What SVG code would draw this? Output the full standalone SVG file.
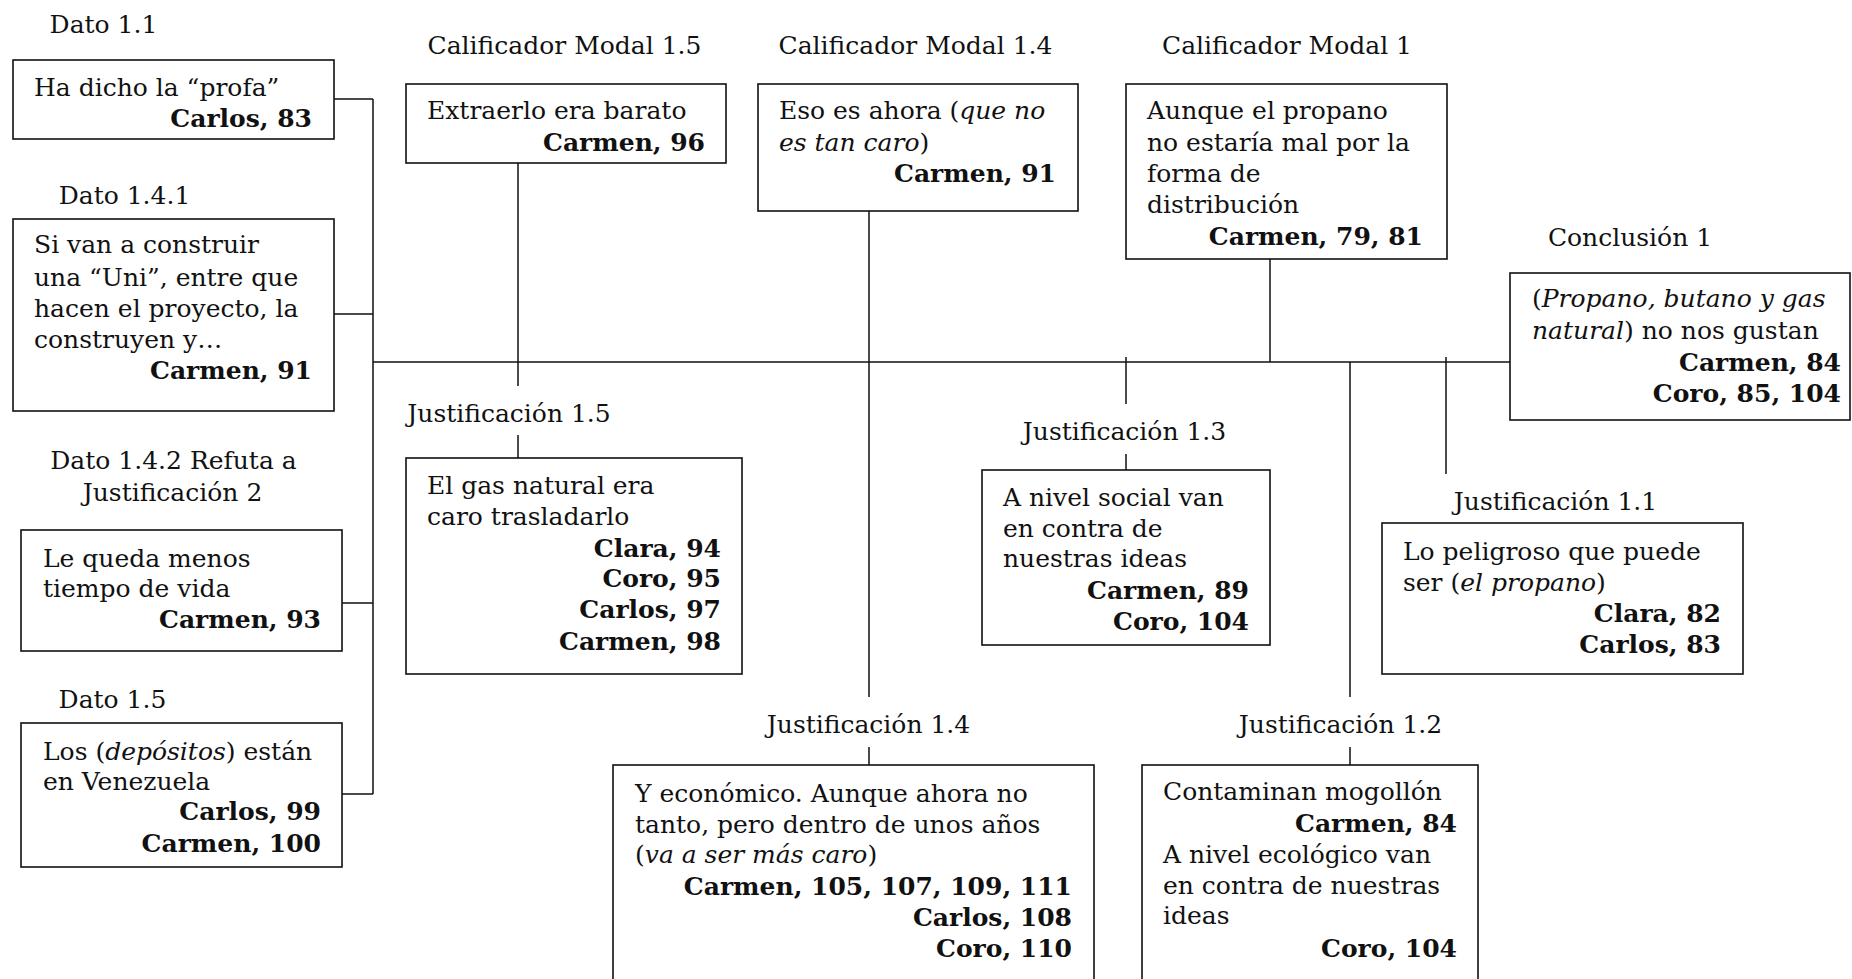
<svg xmlns="http://www.w3.org/2000/svg" width="1852" height="979" viewBox="0 0 1852 979">
  <style>
    text { font-family: "DejaVu Serif", "Liberation Serif", serif; font-size: 25px; fill: #111; }
    .b { font-weight: bold; text-anchor: end; }
    .lbl { text-anchor: middle; }
    .i { font-style: italic; }
    rect.box { fill: #fff; stroke: #111; stroke-width: 1.6; }
    #connectors path { fill: none; stroke: #111; stroke-width: 1.5; }
  </style>
  <rect width="1852" height="979" fill="#fff"/>

  <!-- connectors -->
  <g id="connectors">
    <!-- left bracket joining the data boxes -->
    <path d="M334 99H373M334 314H373M342 603H373M342 794H373M373 99V794"/>
    <!-- main axis to the conclusion -->
    <path d="M373 362H1510"/>
    <!-- qualifier 1.5 / justification 1.5 -->
    <path d="M518 163V386M518 435V458"/>
    <!-- qualifier 1.4 / justification 1.4 -->
    <path d="M869 211V697M869 747V765"/>
    <!-- qualifier 1 -->
    <path d="M1270 259V362"/>
    <!-- justification 1.3 -->
    <path d="M1126 357V404M1126 454V470"/>
    <!-- justification 1.2 -->
    <path d="M1350 362V697M1350 747V765"/>
    <!-- justification 1.1 -->
    <path d="M1446 357V474"/>
  </g>

  <g id="dato-1-1">
    <text class="lbl" x="103.5" y="33">Dato 1.1</text>
    <rect class="box" x="13" y="60" width="321" height="79"/>
    <text x="34" y="96">Ha dicho la “profa”</text>
    <text class="b" x="312" y="127">Carlos, 83</text>
  </g>

  <g id="dato-1-4-1">
    <text class="lbl" x="124.5" y="204">Dato 1.4.1</text>
    <rect class="box" x="13" y="219" width="321" height="192"/>
    <text x="34" y="253">Si van a construir</text>
    <text x="34" y="286">una “Uni”, entre que</text>
    <text x="34" y="317">hacen el proyecto, la</text>
    <text x="34" y="348">construyen y…</text>
    <text class="b" x="312" y="379">Carmen, 91</text>
  </g>

  <g id="dato-1-4-2">
    <text class="lbl" x="173.5" y="469">Dato 1.4.2 Refuta a</text>
    <text class="lbl" x="172.5" y="501">Justificación 2</text>
    <rect class="box" x="21" y="530" width="321" height="121"/>
    <text x="43" y="567">Le queda menos</text>
    <text x="43" y="597">tiempo de vida</text>
    <text class="b" x="321" y="628">Carmen, 93</text>
  </g>

  <g id="dato-1-5">
    <text class="lbl" x="112.5" y="708">Dato 1.5</text>
    <rect class="box" x="21" y="723" width="321" height="144"/>
    <text x="43" y="760">Los (<tspan class="i">depósitos</tspan>) están</text>
    <text x="43" y="790">en Venezuela</text>
    <text class="b" x="321" y="820">Carlos, 99</text>
    <text class="b" x="321" y="852">Carmen, 100</text>
  </g>

  <g id="calificador-1-5">
    <text class="lbl" x="564.5" y="54">Calificador Modal 1.5</text>
    <rect class="box" x="406" y="84" width="320" height="79"/>
    <text x="427" y="119">Extraerlo era barato</text>
    <text class="b" x="705" y="151">Carmen, 96</text>
  </g>

  <g id="calificador-1-4">
    <text class="lbl" x="915.5" y="54">Calificador Modal 1.4</text>
    <rect class="box" x="758" y="84" width="320" height="127"/>
    <text x="779" y="119">Eso es ahora (<tspan class="i">que no</tspan></text>
    <text x="779" y="151"><tspan class="i">es tan caro</tspan>)</text>
    <text class="b" x="1056" y="182">Carmen, 91</text>
  </g>

  <g id="calificador-1">
    <text class="lbl" x="1287" y="54">Calificador Modal 1</text>
    <rect class="box" x="1126" y="84" width="321" height="175"/>
    <text x="1147" y="119">Aunque el propano</text>
    <text x="1147" y="151">no estaría mal por la</text>
    <text x="1147" y="182">forma de</text>
    <text x="1147" y="213">distribución</text>
    <text class="b" x="1423" y="245">Carmen, 79, 81</text>
  </g>

  <g id="conclusion-1">
    <text class="lbl" x="1630" y="246">Conclusión 1</text>
    <rect class="box" x="1510" y="273" width="340" height="147"/>
    <text x="1532" y="307">(<tspan class="i">Propano, butano y gas</tspan></text>
    <text x="1532" y="339"><tspan class="i">natural</tspan>) no nos gustan</text>
    <text class="b" x="1841" y="371">Carmen, 84</text>
    <text class="b" x="1841" y="402">Coro, 85, 104</text>
  </g>

  <g id="justificacion-1-5">
    <text class="lbl" x="509" y="422">Justificación 1.5</text>
    <rect class="box" x="406" y="458" width="336" height="216"/>
    <text x="427" y="494">El gas natural era</text>
    <text x="427" y="525">caro trasladarlo</text>
    <text class="b" x="721" y="557">Clara, 94</text>
    <text class="b" x="721" y="587">Coro, 95</text>
    <text class="b" x="721" y="618">Carlos, 97</text>
    <text class="b" x="721" y="650">Carmen, 98</text>
  </g>

  <g id="justificacion-1-3">
    <text class="lbl" x="1124.5" y="440">Justificación 1.3</text>
    <rect class="box" x="982" y="470" width="288" height="175"/>
    <text x="1003" y="506">A nivel social van</text>
    <text x="1003" y="537">en contra de</text>
    <text x="1003" y="567">nuestras ideas</text>
    <text class="b" x="1249" y="599">Carmen, 89</text>
    <text class="b" x="1249" y="630">Coro, 104</text>
  </g>

  <g id="justificacion-1-1">
    <text class="lbl" x="1555.5" y="510">Justificación 1.1</text>
    <rect class="box" x="1382" y="523" width="361" height="151"/>
    <text x="1403" y="560">Lo peligroso que puede</text>
    <text x="1403" y="591">ser (<tspan class="i">el propano</tspan>)</text>
    <text class="b" x="1721" y="622">Clara, 82</text>
    <text class="b" x="1721" y="653">Carlos, 83</text>
  </g>

  <g id="justificacion-1-4">
    <text class="lbl" x="868.5" y="733">Justificación 1.4</text>
    <rect class="box" x="613" y="765" width="481" height="240"/>
    <text x="635" y="802">Y económico. Aunque ahora no</text>
    <text x="635" y="833">tanto, pero dentro de unos años</text>
    <text x="635" y="863">(<tspan class="i">va a ser más caro</tspan>)</text>
    <text class="b" x="1072" y="895">Carmen, 105, 107, 109, 111</text>
    <text class="b" x="1072" y="926">Carlos, 108</text>
    <text class="b" x="1072" y="957">Coro, 110</text>
  </g>

  <g id="justificacion-1-2">
    <text class="lbl" x="1340.5" y="733">Justificación 1.2</text>
    <rect class="box" x="1142" y="765" width="336" height="240"/>
    <text x="1163" y="800">Contaminan mogollón</text>
    <text class="b" x="1457" y="832">Carmen, 84</text>
    <text x="1163" y="863">A nivel ecológico van</text>
    <text x="1163" y="894">en contra de nuestras</text>
    <text x="1163" y="924">ideas</text>
    <text class="b" x="1457" y="957">Coro, 104</text>
  </g>
</svg>
